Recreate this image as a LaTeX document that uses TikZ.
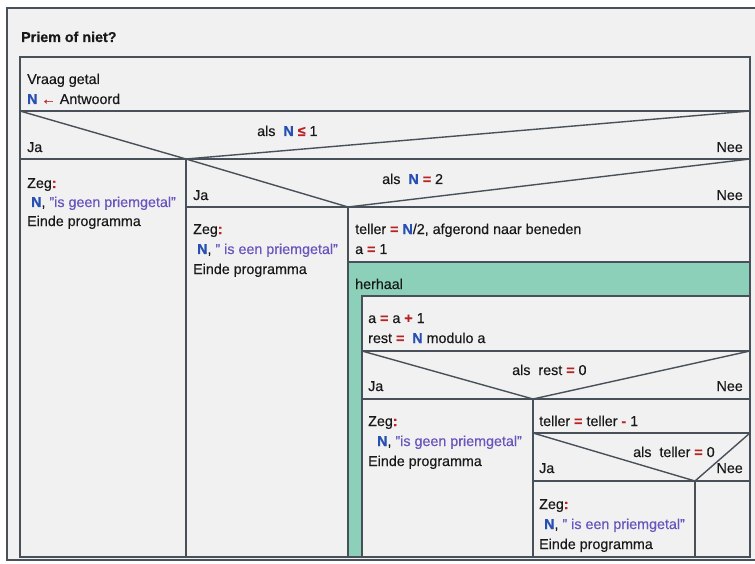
\documentclass[tikz,border=0pt]{standalone}
\usepackage{fontspec}
\setmainfont{Liberation Sans}[FakeBold=0.4]
\definecolor{bgc}{RGB}{240,241,240}
\definecolor{linec}{RGB}{72,80,90}
\definecolor{txtc}{RGB}{25,25,25}
\definecolor{nblue}{RGB}{40,80,180}
\definecolor{opred}{RGB}{185,35,35}
\definecolor{strc}{RGB}{105,85,190}
\definecolor{loopc}{RGB}{140,208,185}
\newcommand{\NN}{\textcolor{nblue}{\textbf{N}}}
\newcommand{\OP}[1]{\textcolor{opred}{\textbf{#1}}}
\newcommand{\ST}[1]{\textcolor{strc}{#1}}
\tikzset{
  txt/.style={anchor=base west,inner sep=0pt,font=\fontsize{14.3}{17}\selectfont,text=txtc},
  txtr/.style={txt,anchor=base east},
  ln/.style={draw=linec,line width=1.4pt},
}
\begin{document}
\begin{tikzpicture}[x=1pt,y=-1pt]
\useasboundingbox (0,0) rectangle (755,564);
\clip (0,0) rectangle (755,564);
\fill[white] (0,0) rectangle (755,564);
\draw[draw=linec,line width=1.2pt,fill=bgc] (7,8) rectangle (770,560);
\node[txt,font=\fontsize{14.3}{17}\selectfont\bfseries] (title) at (21,42) {Priem of niet?};
% main structure
\draw[ln] (20,57) rectangle (750,557);
\fill[loopc] (348,262) rectangle (750,557);
\fill[bgc] (362,296) rectangle (750,557);
\draw[ln] (348,262) rectangle (750,557);
\draw[ln] (20,111) -- (750,111);
\draw[ln] (20,111) -- (186,159) -- (750,111);
\draw[ln] (20,159) -- (750,159);
\draw[ln] (186,159) -- (186,557);
\draw[ln] (186,159) -- (348,207) -- (750,159);
\draw[ln] (186,207) -- (750,207);
\draw[ln] (348,207) -- (348,557);
\draw[ln] (362,557) -- (362,296) -- (750,296);
\draw[ln] (362,351) -- (750,351);
\draw[ln] (362,351) -- (533,399) -- (750,351);
\draw[ln] (362,399) -- (750,399);
\draw[ln] (533,399) -- (533,557);
\draw[ln] (533,433) -- (750,433);
\draw[ln] (533,433) -- (695,481) -- (750,433);
\draw[ln] (533,481) -- (750,481);
\draw[ln] (695,481) -- (695,557);
% texts
\node[txt] (t1) at (27,84) {Vraag getal};
\node[txt] (t2) at (27,104) {\NN\ \OP{\textleftarrow} Antwoord};
\node[txt] (c1) at (257,136) {als\ \ \NN\ \OP{≤} 1};
\node[txt] (ja1) at (27,152) {Ja};
\node[txtr] (nee1) at (743,152) {Nee};
\node[txt] (z1) at (27,188) {Zeg\OP{:}};
\node[txt] (z1b) at (31,207) {\NN, \ST{"is geen priemgetal"}};
\node[txt] (z1c) at (27,226) {Einde programma};
\node[txt] (c2) at (382,184) {als\ \ \NN\ \OP{=} 2};
\node[txt] (ja2) at (193,200) {Ja};
\node[txtr] (nee2) at (743,200) {Nee};
\node[txt] (z2) at (193,234) {Zeg\OP{:}};
\node[txt] (z2b) at (197,254) {\NN, \ST{" is een priemgetal"}};
\node[txt] (z2c) at (193,274) {Einde programma};
\node[txt] (s1) at (355,234) {teller \OP{=} \NN/2, afgerond naar beneden};
\node[txt] (s2) at (355,254) {a \OP{=} 1};
\node[txt] (h) at (355,289) {herhaal};
\node[txt] (s3) at (368,323) {a \OP{=} a \OP{+} 1};
\node[txt] (s4) at (368,343) {rest \OP{=}\ \ \NN\ modulo a};
\node[txt] (c3) at (512,375) {als\ \ rest \OP{=} 0};
\node[txt] (ja3) at (368,391) {Ja};
\node[txtr] (nee3) at (743,391) {Nee};
\node[txt] (z3) at (368,426) {Zeg\OP{:}};
\node[txt] (z3b) at (377,446) {\NN, \ST{"is geen priemgetal"}};
\node[txt] (z3c) at (368,466) {Einde programma};
\node[txt] (s5) at (539,426) {teller \OP{=} teller \OP{-} 1};
\node[txt] (c4) at (633,457) {als\ \ teller \OP{=} 0};
\node[txt] (ja4) at (539,473) {Ja};
\node[txtr] (nee4) at (743,473) {Nee};
\node[txt] (z4) at (539,509) {Zeg\OP{:}};
\node[txt] (z4b) at (544,529) {\NN, \ST{" is een priemgetal"}};
\node[txt] (z4c) at (539,549) {Einde programma};
\end{tikzpicture}
\end{document}
